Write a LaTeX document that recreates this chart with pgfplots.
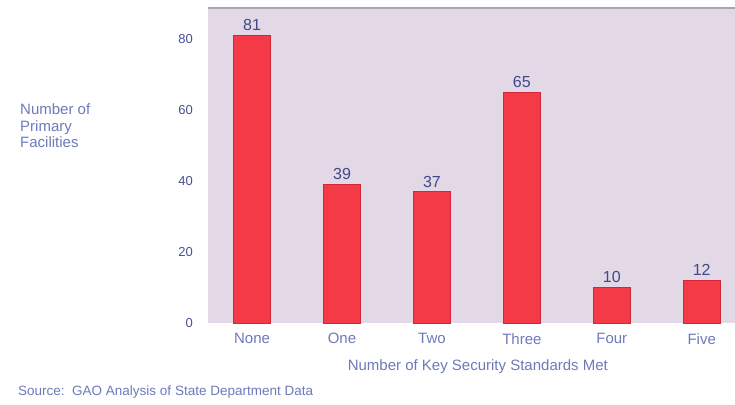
\documentclass[border=0pt]{standalone}
\usepackage{fontspec}
\setmainfont{Liberation Sans}
\usepackage{pgfplots}
\pgfplotsset{compat=1.18}

\definecolor{plotbg}{RGB}{227,216,229}
\definecolor{barred}{RGB}{243,58,70}
\definecolor{baredge}{RGB}{210,40,58}
\definecolor{ticktext}{RGB}{70,80,148}
\definecolor{labeltext}{RGB}{108,122,186}
\definecolor{valtext}{RGB}{62,74,138}
\definecolor{frametop}{RGB}{170,164,176}

\begin{document}
\begin{tikzpicture}[x=1pt,y=1pt]
\path[use as bounding box] (0,0) rectangle (735,404);
\begin{axis}[
  at={(208pt,81pt)}, anchor=south west,
  scale only axis, width=527pt, height=315pt,
  axis background/.style={fill=plotbg},
  axis line style={draw=none},
  ymin=0, ymax=88.7,
  xmin=-0.49, xmax=5.37,
  ytick={0,20,40,60,80},
  xtick={0,1,2,3,4,5},
  xticklabels={None,One,Two,Three,Four,Five},
  major tick length=0pt,
  /pgf/number format/assume math mode=true,
  ticklabel style={font=\fontsize{13}{13}\selectfont},
  yticklabel style={color=ticktext, anchor=east, inner sep=0pt, xshift=-15pt},
  xticklabel style={color=labeltext, anchor=north, inner sep=0pt, yshift=-10pt,
                    font=\fontsize{15}{15}\selectfont},
  xlabel={Number of Key Security Standards Met},
  xlabel style={at={(axis description cs:0.512,-0.1397)}, anchor=center,
                color=labeltext, inner sep=0pt, font=\fontsize{15}{15}\selectfont},
  ylabel={Number of\\Primary\\Facilities},
  ylabel style={rotate=-90, at={(axis description cs:-0.3567,0.697)},
                anchor=north west, align=left, inner sep=0pt,
                color=labeltext, font=\fontsize{15}{16.5}\selectfont},
  ybar, bar width=37pt,
  nodes near coords,
  nodes near coords style={color=valtext, inner sep=0pt, anchor=south, yshift=4pt,
                           font=\fontsize{16}{16}\selectfont},
  clip=false,
]
\addplot[fill=barred, draw=baredge, line width=0.8pt]
  coordinates {(0,81) (1,39) (2,37) (3,65) (4,10) (5,12)};
\draw[frametop, line width=1.5pt] (rel axis cs:0,1) -- (rel axis cs:1,1);
\end{axis}
\node[anchor=west, inner sep=0pt, color=labeltext, font=\fontsize{13.5}{13.5}\selectfont]
  at (18,12) {Source:\ \ GAO Analysis of State Department Data};
\end{tikzpicture}
\end{document}
